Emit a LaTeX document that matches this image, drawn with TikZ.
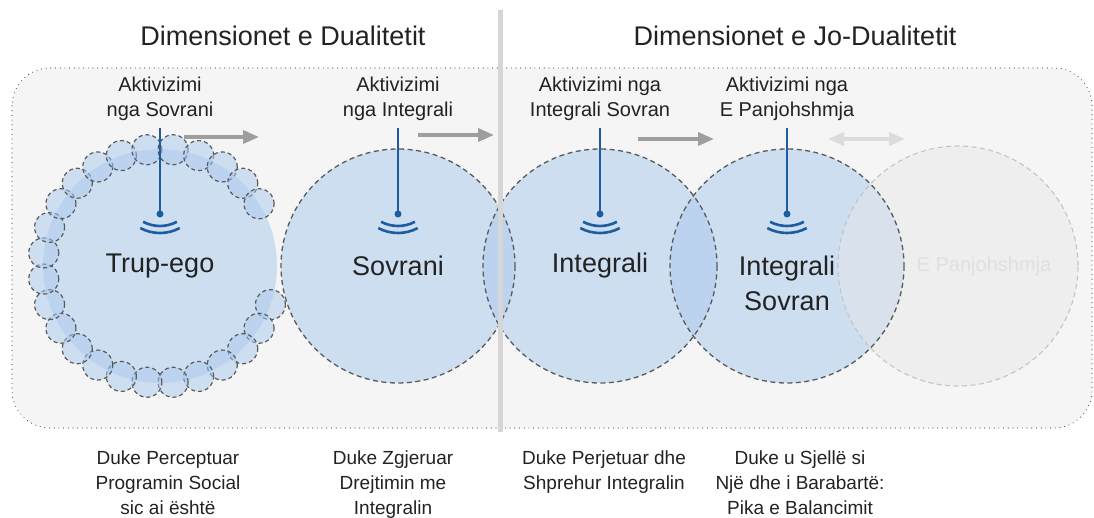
\documentclass[tikz,border=0pt]{standalone}
\usepackage{fontspec}
\setmainfont{Liberation Sans}
\usetikzlibrary{arrows.meta}
\definecolor{boxfill}{HTML}{F5F5F5}
\definecolor{boxline}{HTML}{555555}
\definecolor{bluefill}{HTML}{A9C9EF}
\definecolor{circline}{HTML}{5A5A5A}
\definecolor{greyfill}{HTML}{E6E6E6}
\definecolor{greyline}{HTML}{C4C4C4}
\definecolor{pinblue}{HTML}{1D5C9E}
\definecolor{arrowgrey}{HTML}{9E9E9E}
\definecolor{arrowlight}{HTML}{DCDCDC}
\definecolor{divgrey}{HTML}{D6D6D6}
\definecolor{txt}{HTML}{222222}
\tikzset{
  outerbox/.style={draw=boxline, fill=boxfill, line width=1.1pt, dash pattern=on 0.1pt off 4.6pt, line cap=round, rounded corners=38pt},
  bluedisc/.style={circle, minimum size=234pt, inner sep=0pt, fill=bluefill, fill opacity=0.5},
  dashring/.style={draw=circline, line width=1.3pt, dash pattern=on 5pt off 3.5pt},
  bubble/.style={circle, minimum size=30pt, inner sep=0pt, fill=bluefill, fill opacity=0.5, draw=circline, line width=1.2pt, dash pattern=on 4pt off 3pt},
  greycirc/.style={circle, minimum size=240pt, inner sep=0pt, fill=greyfill, fill opacity=0.45, draw=greyline, line width=1.1pt, dash pattern=on 5pt off 3.5pt},
  title/.style={font=\fontsize{27}{32}\selectfont, text=txt},
  mainlabel/.style={font=\fontsize{27}{35}\selectfont, text=txt, align=center},
  actlabel/.style={font=\fontsize{20}{25}\selectfont, text=txt, align=center, anchor=north, inner sep=0pt},
  botlabel/.style={font=\fontsize{19}{25}\selectfont, text=txt, align=center, anchor=north, inner sep=0pt},
  pinline/.style={draw=pinblue, line width=1.6pt},
  pindot/.style={circle, fill=pinblue, minimum size=7pt, inner sep=0pt},
  wave/.style={draw=pinblue, line width=2.6pt},
  fwdarrow/.style={draw=arrowgrey, line width=3.5pt, -{Triangle[length=16pt,width=13pt]}},
  botharrow/.style={draw=arrowlight, line width=3.5pt, {Triangle[length=16pt,width=13pt]}-{Triangle[length=16pt,width=13pt]}},
  divider/.style={draw=divgrey, line width=5pt}
}
\begin{document}
\begin{tikzpicture}[x=1pt,y=-1pt]
\useasboundingbox (0,0) rectangle (1094,518);
% outer box
\draw[outerbox] (12,68) rectangle (1092,428);
% circles
\node[bluedisc] (trup) at (160,266) {};
\foreach \i in {1,...,25}{
  \path (trup.center) ++(6.43+\i*360/28:117) node[bubble] (bub\i) {};
}
\node[bluedisc] (sovrani) at (398,266) {};
\node[bluedisc] (integrali) at (600,266) {};
\node[bluedisc] (intsov) at (787,266) {};
\node[greycirc] (panj) at (958,266) {};
\draw[dashring] (sovrani.center) circle[radius=117];
\draw[dashring] (integrali.center) circle[radius=117];
\draw[dashring] (intsov.center) circle[radius=117];
% divider
\draw[divider] (500,10) -- (500,432);
% titles
\node[title] (t1) at (283,36) {Dimensionet e Dualitetit};
\node[title] (t2) at (795,36) {Dimensionet e Jo-Dualitetit};
% main labels
\node[mainlabel] (ltrup) at (160,266) {Trup-ego};
\node[mainlabel] (lsov) at (398,266) {Sovrani};
\node[mainlabel] (lint) at (600,266) {Integrali};
\node[mainlabel] (lintsov) at (787,283) {Integrali\\Sovran};
\node[font=\fontsize{20}{24}\selectfont, text=black!12] (lpanj) at (984,266) {E Panjohshmja};
% activation labels
\node[actlabel] (a1) at (160,77) {Aktivizimi\\nga Sovrani};
\node[actlabel] (a2) at (398,77) {Aktivizimi\\nga Integrali};
\node[actlabel] (a3) at (600,77) {Aktivizimi nga\\Integrali Sovran};
\node[actlabel] (a4) at (787,77) {Aktivizimi nga\\E Panjohshmja};
% pins
\foreach \n/\x in {1/160,2/398,3/600,4/787}{
  \coordinate (ptop\n) at (\x,128);
  \node[pindot] (pdot\n) at (\x,214) {};
  \draw[pinline] (ptop\n) -- (pdot\n.center);
  \draw[wave] (pdot\n.center) ++(0,-24) ++(62:36) arc[start angle=62,end angle=118,radius=36];
  \draw[wave] (pdot\n.center) ++(0,-23) ++(62:42) arc[start angle=62,end angle=118,radius=42];
}
% arrows
\coordinate (ar1s) at (184,137); \coordinate (ar1e) at (259,137);
\coordinate (ar2s) at (418,135); \coordinate (ar2e) at (494,135);
\coordinate (ar3s) at (638,139); \coordinate (ar3e) at (714,139);
\coordinate (ar4s) at (828,139); \coordinate (ar4e) at (905,139);
\draw[fwdarrow] (ar1s) -- (ar1e);
\draw[fwdarrow] (ar2s) -- (ar2e);
\draw[fwdarrow] (ar3s) -- (ar3e);
\draw[botharrow] (ar4s) -- (ar4e);
% bottom labels
\node[botlabel] (d1) at (168,451) {Duke Perceptuar\\Programin Social\\sic ai është};
\node[botlabel] (d2) at (393,451) {Duke Zgjeruar\\Drejtimin me\\Integralin};
\node[botlabel] (d3) at (604,451) {Duke Perjetuar dhe\\Shprehur Integralin};
\node[botlabel] (d4) at (800,451) {Duke u Sjellë si\\Një dhe i Barabartë:\\Pika e Balancimit};
\end{tikzpicture}
\end{document}
